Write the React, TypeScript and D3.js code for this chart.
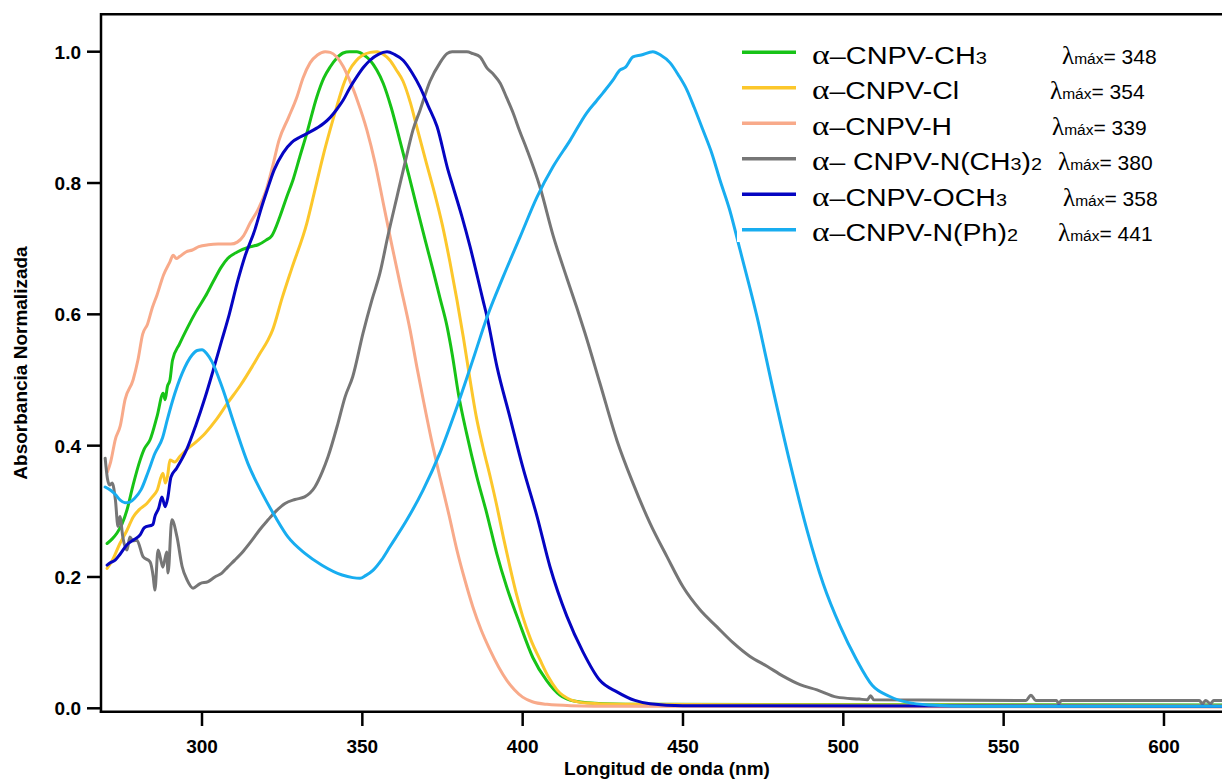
import React from 'react';
import * as d3 from 'd3';

type P = [number, number];

const SERIES_KEYS = ['CH3', 'Cl', 'H', 'NMe2', 'OCH3', 'NPh2'];
const COLORS = ['#17c317', '#fcc72b', '#f8aa8a', '#767676', '#0505c2', '#18adf0'];
const LAMBDA_MAX = [348, 354, 339, 380, 358, 441];
const X_TICKS = [300, 350, 400, 450, 500, 550, 600];
const Y_TICKS = [0, 0.2, 0.4, 0.6, 0.8, 1.0];

const CH3: P[] = [[270.4,0.251],[272,0.258],[273.5,0.267],[275,0.28],[276.6,0.302],[278.5,0.34],[280.7,0.378],[282,0.395],[283.8,0.409],[286,0.445],[287.9,0.48],[288.5,0.47],[289.2,0.49],[290,0.5],[290.8,0.53],[293,0.555],[295.6,0.581],[298,0.603],[301,0.627],[303.5,0.65],[306,0.672],[308,0.685],[311,0.695],[315,0.703],[317.5,0.706],[320,0.713],[321.8,0.72],[324.3,0.749],[326.5,0.78],[328.4,0.805],[330.5,0.84],[332.7,0.876],[335.8,0.931],[338,0.96],[340,0.977],[342,0.99],[344,0.998],[346,1.0],[348.3,1.0],[350.5,0.995],[352.4,0.987],[354.5,0.972],[356.5,0.952],[359,0.915],[361.7,0.865],[364.5,0.812],[367,0.763],[369.5,0.715],[372,0.668],[374.2,0.625],[376.4,0.582],[378,0.54],[380,0.478],[382.5,0.419],[385.7,0.353],[388.8,0.297],[391.9,0.236],[395,0.185],[399,0.13],[403.2,0.077],[407.5,0.042],[411.6,0.02],[416,0.011],[425,0.007],[440,0.006],[620,0.005]];
const CL: P[] = [[270.4,0.213],[272,0.225],[274.4,0.251],[276.5,0.27],[278.5,0.291],[280.5,0.303],[282.8,0.312],[284.5,0.322],[286,0.332],[287.8,0.358],[288.6,0.343],[289.3,0.355],[290,0.378],[291.5,0.375],[293,0.383],[295,0.393],[298,0.405],[301,0.419],[304.5,0.44],[308,0.465],[312,0.492],[315.6,0.52],[318,0.54],[320.6,0.561],[322,0.576],[325,0.625],[328,0.67],[332.7,0.739],[335,0.785],[337.7,0.84],[340,0.882],[342,0.916],[344,0.948],[346,0.972],[348,0.986],[350.2,0.995],[352.5,0.999],[354.6,1.0],[356.5,0.996],[358.6,0.987],[360.5,0.973],[362.7,0.955],[365,0.922],[367,0.885],[370,0.83],[372.5,0.785],[375,0.735],[377.3,0.68],[379.5,0.622],[381.5,0.565],[383.6,0.5],[385.5,0.445],[387.6,0.398],[390,0.35],[392,0.307],[394,0.26],[396,0.216],[398,0.175],[400,0.14],[402.5,0.105],[405.4,0.074],[408,0.048],[410.7,0.028],[415,0.013],[420,0.008],[430,0.006],[620,0.004]];
const H: P[] = [[270.5,0.36],[271.5,0.375],[273,0.41],[274.5,0.43],[276,0.47],[278.5,0.5],[280,0.53],[281.5,0.57],[283,0.585],[284.5,0.61],[286,0.63],[288,0.66],[290,0.68],[291,0.69],[292,0.685],[293,0.688],[295,0.695],[297,0.698],[299,0.703],[302,0.706],[305,0.707],[309,0.707],[311,0.71],[313,0.72],[315,0.739],[317.5,0.76],[320,0.789],[322,0.825],[324,0.865],[327,0.9],[329.6,0.931],[331.5,0.96],[333.7,0.983],[336,0.995],[338.4,1.0],[340,0.999],[342,0.992],[344,0.978],[346,0.957],[348.5,0.925],[351.4,0.881],[354,0.83],[356.5,0.77],[359,0.71],[361.7,0.648],[364.9,0.576],[367,0.52],[369,0.47],[371.5,0.41],[374.2,0.352],[377,0.295],[379.5,0.241],[382,0.195],[384.5,0.154],[387,0.12],[389.8,0.089],[392.5,0.063],[395,0.043],[397.5,0.028],[400,0.017],[403,0.01],[407.6,0.006],[415,0.004],[430,0.003],[620,0.002]];
const NME2: P[] = [[269.8,0.381],[270.5,0.35],[271.2,0.34],[272,0.343],[273,0.317],[273.8,0.277],[274.4,0.292],[275.3,0.261],[276.6,0.241],[277.5,0.261],[278.5,0.255],[279.7,0.256],[281.6,0.231],[283.8,0.223],[284.8,0.2],[285.3,0.18],[286.3,0.241],[287.2,0.225],[287.8,0.215],[289,0.238],[289.4,0.206],[290.6,0.287],[292.2,0.261],[293.8,0.216],[295.3,0.196],[297.2,0.183],[299.4,0.19],[301.9,0.193],[304,0.2],[306.2,0.206],[308,0.215],[310.3,0.226],[313,0.24],[315.6,0.256],[318,0.272],[320.6,0.287],[323,0.3],[325.9,0.312],[329,0.318],[332,0.322],[335.2,0.337],[337.5,0.36],[339.3,0.383],[342.4,0.434],[344.6,0.474],[347,0.505],[350.2,0.571],[353,0.622],[355.5,0.663],[358,0.72],[360.8,0.779],[363.5,0.835],[365.8,0.881],[368,0.911],[371.1,0.955],[374.2,0.983],[376.4,0.997],[378,1.0],[382.6,1.0],[384.5,0.997],[386.7,0.992],[388.9,0.975],[391,0.965],[393,0.952],[395,0.93],[397,0.907],[399,0.88],[401.4,0.85],[405.4,0.794],[409.5,0.72],[413.8,0.655],[416.9,0.61],[419.4,0.572],[424.1,0.495],[429.4,0.408],[434.4,0.343],[439.7,0.282],[445,0.231],[450,0.185],[455.3,0.15],[460.6,0.124],[465.6,0.1],[470.9,0.079],[476.2,0.064],[481.2,0.049],[486.5,0.036],[491.8,0.028],[498,0.017],[505,0.014],[507.5,0.013],[508.5,0.019],[509.5,0.013],[557,0.012],[558.5,0.02],[560,0.012],[566.5,0.012],[567.2,0.007],[568,0.012],[611,0.012],[612,0.007],[613,0.012],[614.5,0.007],[615.5,0.012],[620,0.012]];
const OCH3: P[] = [[270.4,0.218],[271.5,0.222],[273,0.226],[274.5,0.235],[276.6,0.249],[278.5,0.256],[280.7,0.264],[282,0.275],[284.7,0.28],[285.3,0.292],[286.5,0.305],[287.5,0.322],[288.5,0.307],[289.3,0.32],[290.3,0.352],[292,0.365],[295.3,0.395],[298,0.43],[301,0.474],[303.5,0.515],[306.2,0.561],[308.5,0.6],[311.2,0.652],[313.5,0.69],[316.5,0.729],[318.5,0.762],[320.3,0.789],[322.5,0.82],[325.3,0.846],[328,0.862],[330.6,0.87],[333,0.876],[335.9,0.884],[338,0.891],[340,0.9],[342,0.912],[344,0.926],[346,0.944],[348.3,0.962],[350.5,0.977],[352.4,0.987],[355,0.996],[357.7,1.0],[360,0.996],[362.7,0.987],[365.5,0.968],[368,0.946],[370.5,0.918],[373.3,0.886],[376.7,0.82],[378.3,0.794],[381,0.75],[383.6,0.703],[386,0.655],[387.6,0.622],[388.9,0.596],[392,0.52],[396,0.444],[400,0.368],[404.5,0.292],[408.5,0.216],[413.8,0.14],[418.8,0.086],[424,0.043],[429.4,0.025],[435,0.012],[439.7,0.007],[450,0.004],[620,0.003]];
const NPH2: P[] = [[269.8,0.337],[271.5,0.332],[272.9,0.326],[274.5,0.317],[276,0.313],[277.5,0.314],[279,0.32],[281,0.333],[283.2,0.36],[285.3,0.388],[287.7,0.412],[289.2,0.44],[290.8,0.468],[293.8,0.51],[296.9,0.538],[298.5,0.545],[300,0.546],[301.5,0.54],[303.1,0.528],[306.2,0.49],[310.3,0.429],[314.3,0.373],[318.7,0.328],[322.8,0.292],[326.8,0.261],[332.1,0.236],[337.4,0.218],[343.7,0.203],[347,0.199],[349.3,0.198],[351,0.202],[353.3,0.21],[356,0.226],[358.6,0.246],[363.9,0.287],[368.9,0.332],[374.2,0.389],[379.5,0.459],[384.5,0.531],[388.9,0.596],[393.9,0.657],[399.2,0.718],[404.5,0.779],[409.5,0.825],[414.8,0.865],[420,0.907],[423,0.925],[425,0.937],[428.2,0.957],[430.3,0.972],[432,0.976],[434.4,0.992],[437,0.995],[440.6,1.0],[443,0.995],[446,0.983],[448.5,0.965],[451.2,0.942],[453.5,0.915],[456.2,0.881],[459,0.845],[461.5,0.805],[464.5,0.76],[467.8,0.698],[473.1,0.596],[478.1,0.485],[483.4,0.373],[488.7,0.271],[493.7,0.19],[499,0.125],[504,0.075],[509,0.035],[514.5,0.018],[520,0.009],[527,0.005],[540,0.003],[620,0.003]];

const SERIES_DATA: P[][] = [CH3, CL, H, NME2, OCH3, NPH2];

// legend label parts: [text, isSubscript]
const LABEL_PARTS: [string, boolean][][] = [
  [['–CNPV-CH', false], ['3', true]],
  [['–CNPV-Cl', false]],
  [['–CNPV-H', false]],
  [['– CNPV-N(CH', false], ['3', true], [')', false], ['2', true]],
  [['–CNPV-OCH', false], ['3', true]],
  [['–CNPV-N(Ph)', false], ['2', true]],
];

export default function App() {
  const W = 1222, Hh = 781;
  const left = 101, top = 14.3, bottom = 711.7;
  const x = d3.scaleLinear().domain([268.5, 618]).range([left, 1221.7]);
  const y = d3.scaleLinear().domain([0, 1]).range([708.3, 51.7]);
  const line = d3.line<P>().x(d => x(d[0])).y(d => y(d[1])).curve(d3.curveMonotoneX);

  const labelWidths = [175, 147, 140, 230, 195, 206];
  const lambdaX = [1062, 1050, 1052, 1058, 1063, 1058];
  const rowY = (i: number) => 52.3 + i * 35.5;

  return (
    <svg width={W} height={Hh} style={{ position: 'absolute', left: 0, top: 0, background: '#fff' }}
      fontFamily="Arial, 'Liberation Sans', sans-serif">
      <defs>
        <clipPath id="plot">
          <rect x={left} y={top} width={W - left} height={bottom - top} />
        </clipPath>
      </defs>
      <rect x={0} y={0} width={W} height={Hh} fill="#fff" />
      <g clipPath="url(#plot)">
        {SERIES_DATA.map((d, i) => (
          <path key={SERIES_KEYS[i]} d={line(d) || ''} fill="none" stroke={COLORS[i]} strokeWidth={3}
            strokeLinejoin="round" strokeLinecap="round" />
        ))}
      </g>
      {/* legend background */}
      <rect x={737} y={22} width={W - 737} height={220} fill="#fff" />
      {/* frame */}
      <line x1={left} x2={W} y1={top} y2={top} stroke="#000" strokeWidth={2.5} />
      <line x1={left} x2={left} y1={top - 1.2} y2={bottom + 1.2} stroke="#000" strokeWidth={2.5} />
      <line x1={left - 1.2} x2={W} y1={bottom} y2={bottom} stroke="#000" strokeWidth={2.5} />
      {/* y ticks */}
      {Y_TICKS.map(t => (
        <g key={'y' + t}>
          <line x1={87} x2={left} y1={y(t)} y2={y(t)} stroke="#000" strokeWidth={2.5} />
          <text x={81} y={y(t) + 7} textAnchor="end" fontSize={19} fontWeight="bold">{t.toFixed(1)}</text>
        </g>
      ))}
      {/* x ticks */}
      {X_TICKS.map(t => (
        <g key={'x' + t}>
          <line x1={x(t)} x2={x(t)} y1={bottom} y2={726} stroke="#000" strokeWidth={2.5} />
          <text x={x(t)} y={753} textAnchor="middle" fontSize={19} fontWeight="bold">{t}</text>
        </g>
      ))}
      <text x={667} y={775} textAnchor="middle" fontSize={19} fontWeight="bold">Longitud de onda (nm)</text>
      <text transform="translate(27,363) rotate(-90)" textAnchor="middle" fontSize={19} fontWeight="bold">
        Absorbancia Normalizada
      </text>
      {/* legend */}
      {SERIES_KEYS.map((k, i) => (
        <g key={'lg' + k}>
          <line x1={742} x2={796} y1={rowY(i)} y2={rowY(i)} stroke={COLORS[i]} strokeWidth={3.5} />
          <text x={812} y={rowY(i) + 11.5} fontSize={23} textLength={labelWidths[i]} lengthAdjust="spacingAndGlyphs">
            <tspan fontFamily="'Liberation Serif', 'Times New Roman', serif" fontSize={27}>α</tspan>
            {LABEL_PARTS[i].map(([t, sub], j) => (
              <tspan key={j} fontSize={sub ? 16 : 23}>{t}</tspan>
            ))}
          </text>
          <text x={lambdaX[i]} y={rowY(i) + 11.5} fontSize={21}>
            <tspan fontFamily="'Liberation Serif', 'Times New Roman', serif" fontSize={25}>λ</tspan>
            <tspan fontSize={15.5}>máx</tspan>
            <tspan>{'= ' + LAMBDA_MAX[i]}</tspan>
          </text>
        </g>
      ))}
    </svg>
  );
}
